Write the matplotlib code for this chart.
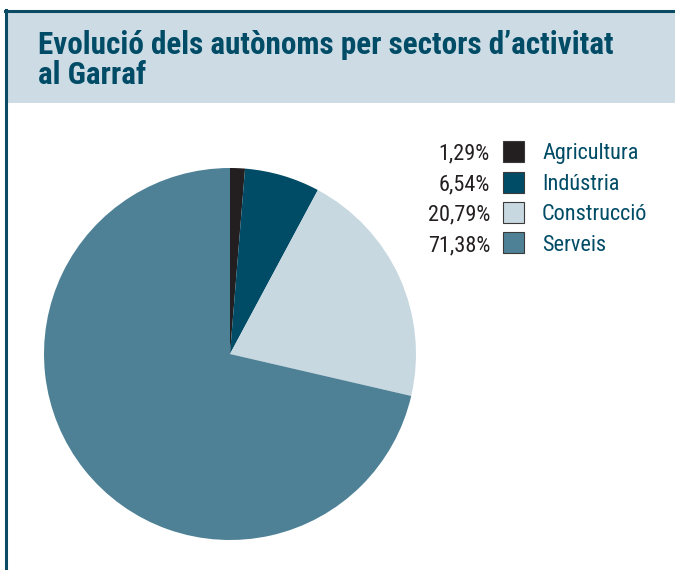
#!/usr/bin/env python3
# -*- coding: UTF-8 -*-
"""
Pie chart: autònoms per sector d'activitat al Garraf.
"""
import matplotlib
matplotlib.use('Agg')
from matplotlib import pyplot as plt
from matplotlib.patches import Rectangle
from matplotlib.lines import Line2D

sectors = ['Agricultura', 'Indústria', 'Construcció', 'Serveis']
shares = [1.29, 6.54, 20.79, 71.38]
share_labels = ['1,29%', '6,54%', '20,79%', '71,38%']
colors = ['#231f20', '#004b66', '#c8d8e0', '#4e8196']

title_lines = ['Evolució dels autònoms per sectors d’activitat', 'al Garraf']

W, H = 675, 570
NARROW = ['Roboto Condensed', 'DejaVu Sans']
TEAL = '#004b66'


def fx(px):
    return px / W


def fy(py):
    return 1 - py / H


fig = plt.figure(figsize=(W / 100, H / 100), dpi=100)

# title band and frame
fig.patches.append(Rectangle((fx(7), fy(103)), fx(W - 7), (103 - 11) / H,
                             transform=fig.transFigure, facecolor='#cddce4',
                             edgecolor='none', zorder=0))
fig.lines.append(Line2D([fx(5), 1], [fy(10.5), fy(10.5)], transform=fig.transFigure,
                        color='#0b4a63', linewidth=2.2))
fig.lines.append(Line2D([fx(6), fx(6)], [fy(10), 0], transform=fig.transFigure,
                        color='#0b4a63', linewidth=2.2))

for base, line in zip([54, 84], title_lines):
    fig.text(fx(38), fy(base), line, family=NARROW, fontweight='bold', fontsize=22.4,
             color=TEAL, va='baseline', ha='left')

# pie
cx, cy, r = 230, 354, 186
ax = fig.add_axes([fx(cx - r), fy(cy + r), 2 * r / W, 2 * r / H])
ax.pie(shares, colors=colors, startangle=90, counterclock=False,
       wedgeprops={'linewidth': 0})
ax.set_xlim(-1, 1)
ax.set_ylim(-1, 1)
ax.set_aspect('auto')
ax.axis('off')

# legend
row_y = [151.5, 182, 212.5, 243]
for y, name, lab, col in zip(row_y, sectors, share_labels, colors):
    fig.text(fx(490), fy(y + 8), lab, family=NARROW, fontsize=16, color='#231f20',
             ha='right', va='baseline')
    fig.patches.append(Rectangle((fx(503), fy(y + 10.5)), 21 / W, 21 / H,
                                 transform=fig.transFigure, facecolor=col,
                                 edgecolor='#3a3a3a', linewidth=0.8))
    fig.text(fx(542), fy(y + 8), name, family=NARROW, fontsize=16, color=TEAL,
             ha='left', va='baseline')

fig.savefig('out.png', dpi=100)
